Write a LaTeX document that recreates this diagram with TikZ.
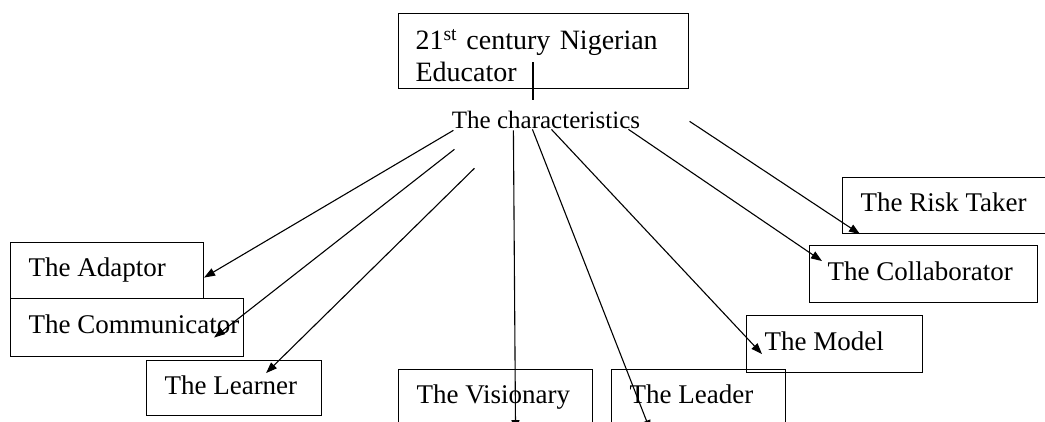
\documentclass[tikz,border=0pt]{standalone}
\usepackage{fontspec}
\setmainfont{Liberation Serif}
\usetikzlibrary{arrows.meta}

\newcommand\traittext[2]{\makebox[#1][l]{\strut #2}}

\begin{document}
\begin{tikzpicture}[x=1pt, y=-1pt, line width=1.1pt,
  trait/.style={draw, shape=rectangle, anchor=north west,
    inner xsep=18pt, inner ysep=0pt, minimum height=56pt,
    font=\fontsize{27}{32}\selectfont},
  link/.style={-{Triangle[length=11pt, width=8pt]}}]
\clip (0,0) rectangle (1045,421);
\node [draw, shape=rectangle, anchor=north west, align=left, text width=256pt,
  inner xsep=17pt, minimum height=75pt, font=\fontsize{28}{32}\selectfont]
  (educator) at (398,13) {\rule{0pt}{30pt}21\textsuperscript{st} century Nigerian\\Educator};
\node [inner sep=0pt, font=\fontsize{25}{30}\selectfont] (chars) at (546,120) {The characteristics};
% left side
\node [trait] (adaptor) at (10,242) {\traittext{157pt}{The Adaptor}};
\node [trait, minimum height=58pt] (communicator) at (10,298) {\traittext{197pt}{The Communicator}};
\node [trait, minimum height=55pt] (learner) at (146,360) {\traittext{139pt}{The Learner}};
% bottom
\node [trait] (visionary) at (398,369) {\traittext{158pt}{The Visionary}};
\node [trait] (leader) at (611,369) {\traittext{138pt}{The Leader}};
% right side
\node [trait, minimum height=57pt] (model) at (746,315) {\traittext{140pt}{The Model}};
\node [trait, minimum height=57pt] (collaborator) at (809,245) {\traittext{192pt}{The Collaborator}};
\node [trait] (risktaker) at (842,177) {\traittext{182pt}{The Risk Taker}};

\draw ([shift={(135,49)}]educator.north west) coordinate (stem)
  -- ([yshift=11pt]stem |- chars.north);
\draw [link] ([shift={(2,1)}]chars.south west) -- ([shift={(0,7)}]adaptor.east);
\draw [link] ([shift={(3,20)}]chars.south west) -- ([shift={(-30,10)}]communicator.east);
\draw [link] ([shift={(23,39)}]chars.south west) -- ([shift={(-56,-15)}]learner.east);
\draw [link] ([shift={(62,1)}]chars.south west) -- ([shift={(20,5)}]visionary.south);
\draw [link] ([shift={(81,0)}]chars.south west) -- ([shift={(-48,5)}]leader.south);
\draw [link] ([shift={(100,0)}]chars.south west) -- ([shift={(16,10)}]model.west);
\draw [link] ([shift={(177,0)}]chars.south west) -- ([shift={(13,-13)}]collaborator.west);
\draw [link] ([shift={(49,-8)}]chars.south east) -- ([shift={(18,0)}]risktaker.south west);
\end{tikzpicture}
\end{document}
